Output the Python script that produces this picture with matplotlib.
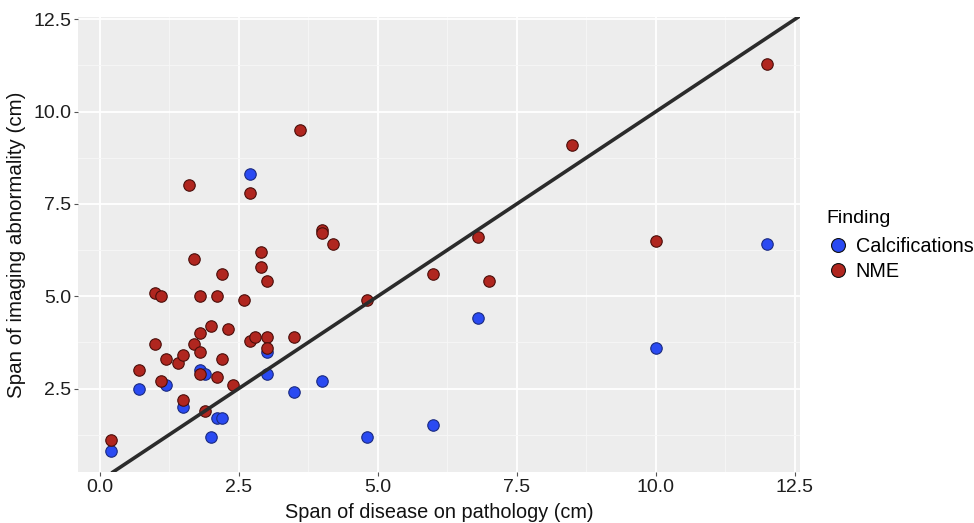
import numpy as np
import matplotlib.pyplot as plt
from matplotlib.lines import Line2D

plt.rcParams['font.family'] = ['Liberation Sans', 'DejaVu Sans']

# Calcifications (blue)
calc_x = [0.2, 0.7, 1.2, 1.5, 1.8, 1.9, 2.0, 2.1, 2.2, 2.7, 3.0, 3.0, 3.5, 4.0, 4.8, 6.0, 6.8, 10.0, 12.0]
calc_y = [0.8, 2.5, 2.6, 2.0, 3.0, 2.9, 1.2, 1.7, 1.7, 8.3, 3.5, 2.9, 2.4, 2.7, 1.2, 1.5, 4.4, 3.6, 6.4]

# NME (red)
nme_x = [0.2, 0.7, 1.0, 1.1, 1.0, 1.1, 1.2, 1.4, 1.5, 1.5, 1.6, 1.7, 1.7, 1.8, 1.8, 1.8, 1.8,
         1.9, 2.0, 2.1, 2.1, 2.2, 2.2, 2.3, 2.4, 2.6, 2.7, 2.7, 2.8, 2.9, 2.9, 3.0, 3.0, 3.0,
         3.5, 3.6, 4.0, 4.0, 4.2, 4.8, 6.0, 6.8, 7.0, 8.5, 10.0, 12.0]
nme_y = [1.1, 3.0, 5.1, 5.0, 3.7, 2.7, 3.3, 3.2, 3.4, 2.2, 8.0, 6.0, 3.7, 5.0, 4.0, 3.5, 2.9,
         1.9, 4.2, 5.0, 2.8, 5.6, 3.3, 4.1, 2.6, 4.9, 7.8, 3.8, 3.9, 6.2, 5.8, 5.4, 3.9, 3.6,
         3.9, 9.5, 6.8, 6.7, 6.4, 4.9, 5.6, 6.6, 5.4, 9.1, 6.5, 11.3]

ticks = [0.0, 2.5, 5.0, 7.5, 10.0, 12.5]
minor = [1.25, 3.75, 6.25, 8.75, 11.25]

blue = '#2A4AF2'
red = '#B0261F'

fig = plt.figure(figsize=(9.74, 5.23), dpi=100)
ax = fig.add_axes([78 / 974, 1 - 472 / 523, 722 / 974, 455 / 523])
ax.set_facecolor('#EDEDED')
for s in ax.spines.values():
    s.set_visible(False)

ax.set_xlim(-0.39, 12.59)
ax.set_ylim(0.24, 12.56)
ax.set_xticks(ticks)
ax.set_yticks(ticks[1:])
ax.set_xticks(minor, minor=True)
ax.set_yticks([1.25] + minor, minor=True)
ax.set_xticklabels(['0.0', '2.5', '5.0', '7.5', '10.0', '12.5'])
ax.set_yticklabels(['2.5', '5.0', '7.5', '10.0', '12.5'])
ax.grid(which='major', color='white', linewidth=1.3)
ax.grid(which='minor', color='#F7F7F7', linewidth=0.6)
ax.set_axisbelow(True)
ax.tick_params(which='major', length=3, width=0.8, color='#555555', labelsize=14, labelcolor='#1E1E1E', pad=2)
ax.tick_params(which='minor', length=0)

ax.scatter(calc_x, calc_y, s=68, color=blue, edgecolor='#1A2A80', linewidth=0.8, zorder=3)
ax.scatter(nme_x, nme_y, s=68, color=red, edgecolor='#4A0E0A', linewidth=0.8, zorder=3)
ax.axline((0, 0), slope=1, color='#2B2B2B', linewidth=2.6, zorder=4)

ax.set_xlabel('Span of disease on pathology (cm)', fontsize=14.3, color='#111111', labelpad=5)
ax.set_ylabel('Span of imaging abnormality (cm)', fontsize=14.8, color='#111111', labelpad=5)

handles = [Line2D([], [], marker='o', linestyle='', markersize=10, markerfacecolor=blue,
                  markeredgecolor='#111111', markeredgewidth=0.8),
           Line2D([], [], marker='o', linestyle='', markersize=10, markerfacecolor=red,
                  markeredgecolor='#111111', markeredgewidth=0.8)]
leg = ax.legend(handles, ['Calcifications', 'NME'], title='Finding', loc='upper left',
                bbox_to_anchor=(816 / 974, 1 - 200 / 523), bbox_transform=fig.transFigure,
                frameon=False, fontsize=14.3, title_fontsize=14, handletextpad=0.3,
                labelspacing=0.32, handlelength=1.2, borderpad=0)
leg._legend_box.align = 'left'
leg._legend_box.sep = 7

fig.savefig('out.png', dpi=100)
